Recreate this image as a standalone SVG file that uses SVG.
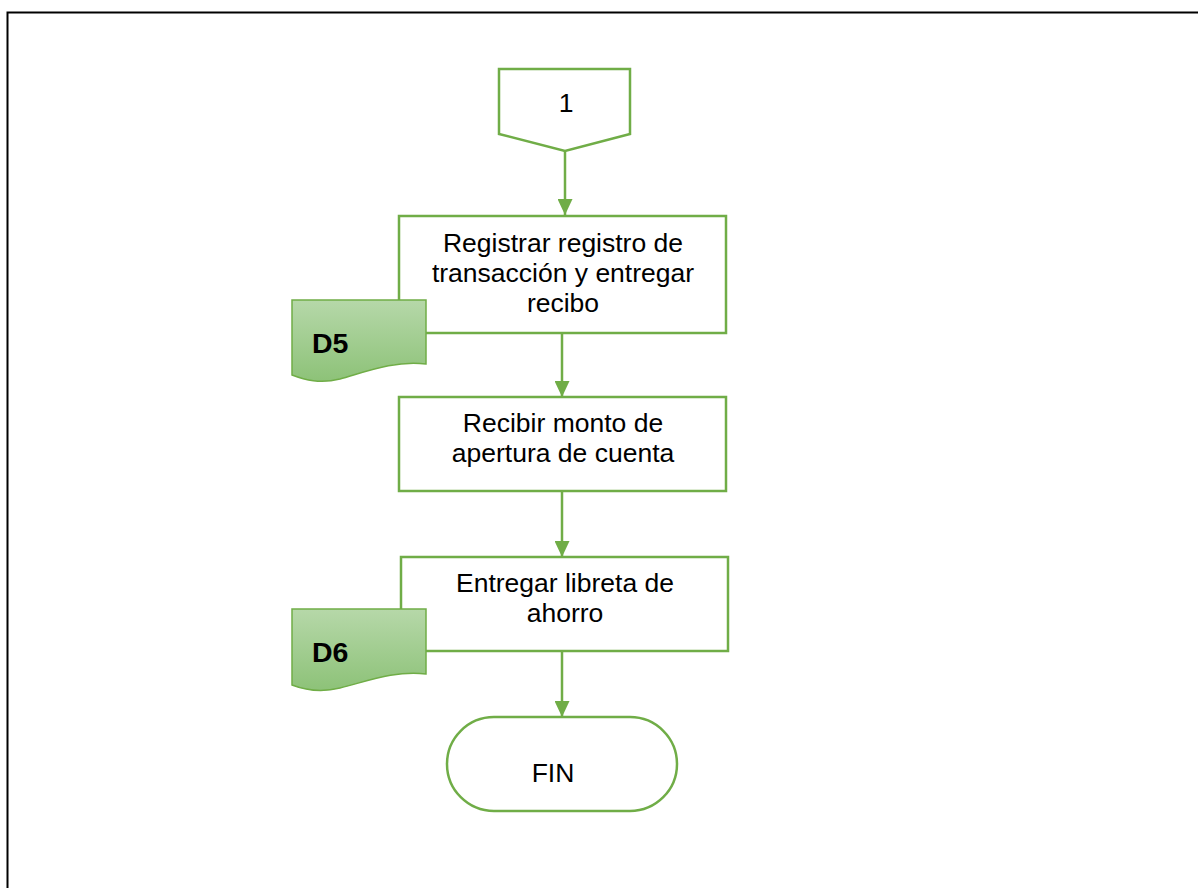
<svg xmlns="http://www.w3.org/2000/svg" width="1198" height="888" viewBox="0 0 1198 888">
  <style>
    .shape { fill: #ffffff; stroke: #70ad47; stroke-width: 2.5; }
    .doc { fill: url(#docFill); stroke: #70ad47; stroke-width: 1.5; }
    .label { font-family: "Liberation Sans", Arial, sans-serif; font-size: 26.5px; fill: #000000; text-anchor: middle; }
    .doclabel { font-family: "Liberation Sans", Arial, sans-serif; font-size: 28.5px; font-weight: bold; fill: #000000; }
  </style>
  <defs>
    <linearGradient id="docFill" x1="0" y1="0" x2="0" y2="1">
      <stop offset="0" stop-color="#b6d8a9"/>
      <stop offset="1" stop-color="#8dc278"/>
    </linearGradient>
    <marker id="arrowhead" viewBox="0 0 16 15" refX="16" refY="7.5" markerWidth="16" markerHeight="15" markerUnits="userSpaceOnUse" orient="auto">
      <path d="M0,0 L16,7.5 L0,15 z" fill="#70ad47"/>
    </marker>
  </defs>

  <!-- page frame -->
  <path d="M7.5,900 L7.5,12.5 L1210,12.5" fill="none" stroke="#000000" stroke-width="2"/>

  <!-- connectors -->
  <g id="connectors" stroke="#70ad47" stroke-width="2.5" marker-end="url(#arrowhead)">
    <line x1="565" y1="151" x2="565" y2="215"/>
    <line x1="562" y1="333" x2="562" y2="397"/>
    <line x1="562" y1="491" x2="562" y2="557"/>
    <line x1="562" y1="651" x2="562" y2="717"/>
  </g>

  <!-- off-page connector -->
  <g id="node-connector-1">
    <path class="shape" d="M499,69 L630,69 L630,134 L565,151 L499,134 Z"/>
    <text class="label" x="566" y="112">1</text>
  </g>

  <!-- process: register transaction -->
  <g id="node-registrar">
    <rect class="shape" x="399" y="216" width="327" height="117"/>
    <text class="label" x="563" y="252">Registrar registro de</text>
    <text class="label" x="563" y="282">transacción y entregar</text>
    <text class="label" x="563" y="312">recibo</text>
  </g>

  <!-- document D5 -->
  <g id="node-d5">
    <path class="doc" d="M292,300 L426,300 L426,364 C395,360 365,372 340,379 C320,384 305,380 292,375 Z"/>
    <text class="doclabel" x="312" y="353">D5</text>
  </g>

  <!-- process: receive opening amount -->
  <g id="node-recibir">
    <rect class="shape" x="399" y="397" width="327" height="94"/>
    <text class="label" x="563" y="432">Recibir monto de</text>
    <text class="label" x="563" y="462">apertura de cuenta</text>
  </g>

  <!-- process: hand over savings book -->
  <g id="node-entregar">
    <rect class="shape" x="401" y="557" width="327" height="94"/>
    <text class="label" x="565" y="592">Entregar libreta de</text>
    <text class="label" x="565" y="622">ahorro</text>
  </g>

  <!-- document D6 -->
  <g id="node-d6">
    <path class="doc" d="M292,609 L426,609 L426,674 C395,670 365,682 340,688 C320,693 305,690 292,685 Z"/>
    <text class="doclabel" x="312" y="662">D6</text>
  </g>

  <!-- terminator -->
  <g id="node-fin">
    <rect class="shape" x="447" y="717" width="230" height="94" rx="47" ry="47"/>
    <text class="label" x="553" y="782">FIN</text>
  </g>
</svg>
